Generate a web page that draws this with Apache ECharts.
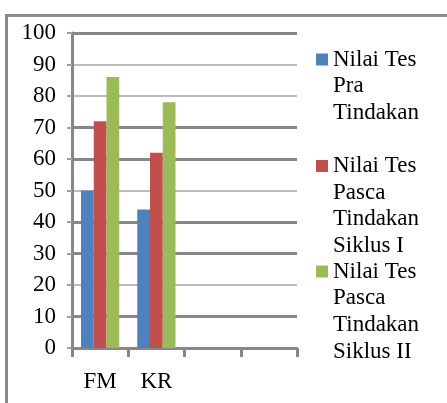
<!DOCTYPE html>
<html>
<head>
<meta charset="utf-8">
<title>Nilai Tes</title>
<script src="https://cdn.jsdelivr.net/npm/echarts@6/dist/echarts.min.js"></script>
<style>
  html, body { margin: 0; padding: 0; background: #ffffff; }
  #chart { width: 447px; height: 403px; }
</style>
</head>
<body>
<div id="chart"></div>
<script>
// Categories on the x axis (the last two slots are left empty)
var categories = ['FM', 'KR', '', ''];

// Series names and their values per category
var seriesNames = [
  'Nilai Tes Pra Tindakan',
  'Nilai Tes Pasca Tindakan Siklus I',
  'Nilai Tes Pasca Tindakan Siklus II'
];
var legendLines = [
  ['Nilai Tes', 'Pra', 'Tindakan'],
  ['Nilai Tes', 'Pasca', 'Tindakan', 'Siklus I'],
  ['Nilai Tes', 'Pasca', 'Tindakan', 'Siklus II']
];
var praTindakan = [50, 44, null, null];
var siklusI = [72, 62, null, null];
var siklusII = [86, 78, null, null];

// Value axis ticks
var yMin = 0;
var yMax = 100;
var yStep = 10;
// Gridlines drawn heavier than the rest
var heavyLines = [0, 10, 30, 40, 60, 70, 100];

var colors = ['#4F81BD', '#C0504D', '#9BBB59'];
var font = 'Liberation Serif';
var fontSize = 23;
var lineH = 26.7;
var legendIconCenters = [59.5, 166, 271.5];

var seriesValues = [praTindakan, siklusI, siklusII];

// Legend text is centred on its marker, so blank lines are put in front
// to keep the marker level with the first line.
var legends = seriesNames.map(function (name, i) {
  var n = legendLines[i].length;
  var pad = [];
  for (var k = 0; k < n - 1; k++) { pad.push(''); }
  var label = pad.concat(legendLines[i]).join('\n');
  return {
    data: [name],
    orient: 'vertical',
    left: 316,
    top: legendIconCenters[i] - (2 * n - 1) * lineH / 2,
    padding: 0,
    itemWidth: 12,
    itemHeight: 12,
    icon: 'rect',
    selectedMode: false,
    formatter: function () { return label; },
    textStyle: {
      fontFamily: font,
      fontSize: fontSize,
      lineHeight: lineH,
      color: '#000'
    }
  };
});

var series = seriesNames.map(function (name, i) {
  var s = {
    name: name,
    type: 'bar',
    data: seriesValues[i],
    barGap: '0%',
    barCategoryGap: '32%',
    itemStyle: { color: colors[i] }
  };
  if (i === 0) {
    s.markLine = {
      silent: true,
      z: 1,
      symbol: ['none', 'none'],
      label: { show: false },
      lineStyle: { color: '#878787', width: 3, type: 'solid' },
      data: heavyLines.map(function (v) { return { yAxis: v }; })
    };
  }
  return s;
});

var chart = echarts.init(document.getElementById('chart'), null, { renderer: 'canvas' });
chart.setOption({
  animation: false,
  color: colors,
  graphic: [{
    type: 'rect',
    shape: { x: 6.5, y: 15.5, width: 600, height: 600 },
    style: { fill: 'none', stroke: '#8a8a8a', lineWidth: 3 },
    silent: true
  }],
  legend: legends,
  grid: { left: 72, right: 150, top: 33, bottom: 55 },
  xAxis: {
    type: 'category',
    data: categories,
    boundaryGap: true,
    axisLine: { lineStyle: { color: '#878787', width: 3 } },
    axisTick: { show: true, length: 9, lineStyle: { color: '#878787', width: 3 } },
    axisLabel: {
      margin: 22,
      fontFamily: font,
      fontSize: fontSize,
      color: '#000'
    },
    splitLine: { show: false }
  },
  yAxis: {
    type: 'value',
    min: yMin,
    max: yMax,
    interval: yStep,
    axisLine: { show: true, lineStyle: { color: '#878787', width: 3 } },
    axisTick: { show: true, length: 5, lineStyle: { color: '#a0a0a0', width: 2 } },
    axisLabel: {
      margin: 16,
      fontFamily: font,
      fontSize: fontSize,
      color: '#000'
    },
    splitLine: { show: true, lineStyle: { color: '#bdbdbd', width: 2 } }
  },
  series: series
});
</script>
</body>
</html>
